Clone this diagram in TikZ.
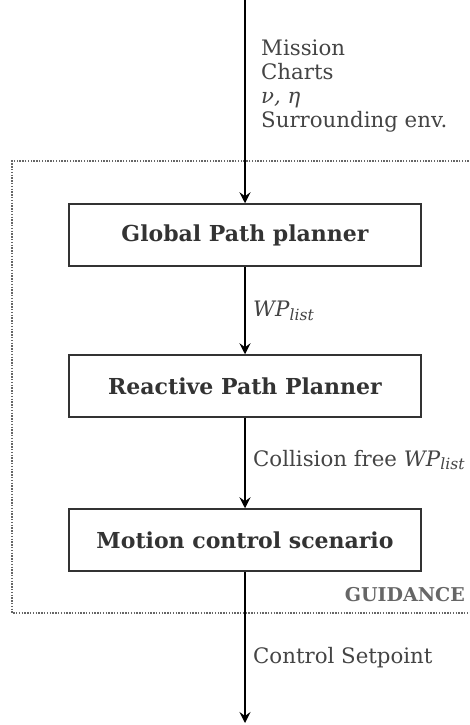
\documentclass[tikz,border=0pt]{standalone}
\usepackage{fontspec}
\setmainfont{DejaVu Serif}
\usetikzlibrary{arrows.meta}
\definecolor{ink}{HTML}{333333}
\definecolor{labelgray}{HTML}{444444}
\definecolor{framegray}{HTML}{666666}
% italic symbols set in the text font
\newcommand{\wplist}{\textit{WP}\raisebox{-0.3ex}{\fontsize{15.5}{15.5}\selectfont\textit{list}}}
\tikzset{
  blockbox/.style={draw=ink, line width=1.5pt, minimum width=352pt, minimum height=62pt,
    inner sep=0pt, font=\bfseries\fontsize{22}{26}\selectfont, text=ink},
  flow/.style={draw=black, line width=1.6pt, -{Stealth[length=11pt,width=11pt,inset=4pt]}},
  sidelabel/.style={anchor=west, inner sep=0pt, text=labelgray,
    font=\fontsize{21.3}{24}\selectfont, align=left},
  frame/.style={draw=framegray, line width=1.8pt, dash pattern=on 1.4pt off 1.4pt}
}
\begin{document}
\begin{tikzpicture}[x=1pt, y=-1pt]
  \useasboundingbox (0,0) rectangle (469,725);

  % guidance frame, its right side runs past the edge
  \draw[frame] (480,161) -- (12,161) -- (12,613) -- (480,613);
  \node[anchor=east, inner sep=0pt, text=framegray,
        font=\bfseries\fontsize{19}{22}\selectfont] (guid) at (465,595) {GUIDANCE};

  % blocks
  \node[blockbox] (gpp) at (245,235) {Global Path planner};
  \node[blockbox] (rpp) at (245,386) {Reactive Path Planner};
  \node[blockbox] (mcs) at (245,540) {Motion control scenario};

  % connector end points
  \coordinate (src) at (245,0);
  \coordinate (sink) at (245,723);

  % connectors
  \draw[flow] (src) -- (gpp.north);
  \draw[flow] (gpp.south) -- (rpp.north);
  \draw[flow] (rpp.south) -- (mcs.north);
  \draw[flow] (mcs.south) -- (sink);

  % labels
  \node[sidelabel] (inputs) at (261,86) {Mission\\Charts\\\textit{ν, η}\\Surrounding env.};
  \node[sidelabel] (wp) at (253,311) {\wplist};
  \node[sidelabel] (cf) at (253,460) {Collision free \wplist};
  \node[sidelabel] (cs) at (253,658) {Control Setpoint};
\end{tikzpicture}
\end{document}
